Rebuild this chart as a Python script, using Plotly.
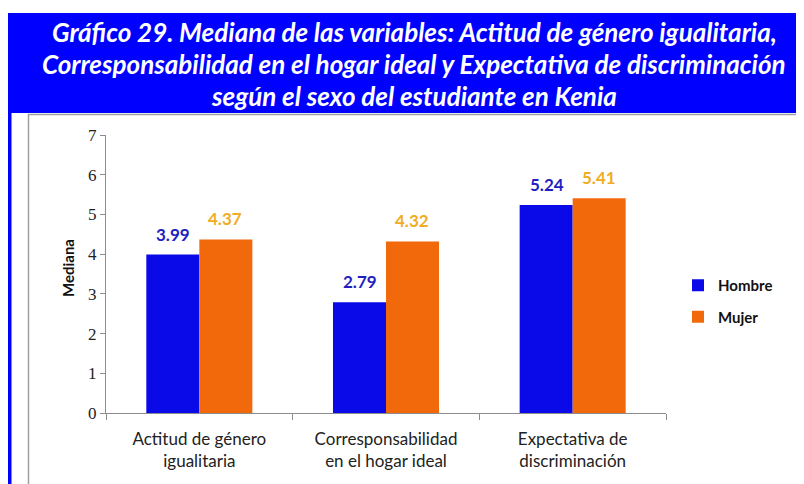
import plotly.graph_objects as go

categories = ["Actitud de género<br>igualitaria",
              "Corresponsabilidad<br>en el hogar ideal",
              "Expectativa de<br>discriminación"]
hombre = [3.99, 2.79, 5.24]
mujer = [4.37, 4.32, 5.41]
y_ticks = [0, 1, 2, 3, 4, 5, 6, 7]
title_lines = ["Gráfico 29. Mediana de las variables: Actitud de género igualitaria,",
               "Corresponsabilidad en el hogar ideal y Expectativa de discriminación",
               "según el sexo del estudiante en Kenia"]

# page body has an 8px margin; work in screen coordinates and convert
OFF = 8
W, H = 804 - OFF, 484 - OFF
L, R, T, B = 106 - OFF, 138, 135 - OFF, 71
PW, PH = W - L - R, H - T - B

def px(x):
    return (x - OFF - L) / PW

def py(y):
    return (H - B - (y - OFF)) / PH

fig = go.Figure()
fig.add_trace(go.Bar(x=categories, y=hombre, name="<b>Hombre</b>", legendgroup="h",
                     marker=dict(color="#0A0AE8", line=dict(width=0))))
fig.add_trace(go.Bar(x=categories, y=mujer, name="<b>Mujer</b>", legendgroup="m",
                     marker=dict(color="#F2690C", line=dict(width=0))))

annotations = []
for cat, v in zip(categories, hombre):
    annotations.append(dict(x=cat, y=v, xref="x", yref="y", text=f"<b>{v:.2f}</b>",
                            showarrow=False, xshift=-26, yanchor="bottom", yshift=8,
                            font=dict(family="Lato", size=17, color="#1F1FBF")))
for cat, v in zip(categories, mujer):
    annotations.append(dict(x=cat, y=v, xref="x", yref="y", text=f"<b>{v:.2f}</b>",
                            showarrow=False, xshift=26, yanchor="bottom", yshift=8,
                            font=dict(family="Lato", size=17, color="#F0AC24")))

for line, yc in zip(title_lines, [32, 64, 96]):
    annotations.append(dict(x=px(414), y=py(yc), xref="paper", yref="paper",
                            text=f"<b><i>{line}</i></b>", showarrow=False,
                            xanchor="center", yanchor="middle",
                            font=dict(family="Lato", size=26, color="white")))

annotations.append(dict(x=px(68), y=py(268), xref="paper", yref="paper",
                        text="<b>Mediana</b>", textangle=-90, showarrow=False,
                        xanchor="center", yanchor="middle",
                        font=dict(family="Lato", size=15, color="#111")))

shapes = [
    dict(type="rect", xref="paper", yref="paper", x0=px(8), x1=px(806), y0=py(13), y1=py(113),
         fillcolor="#0000FF", line=dict(width=0), layer="below"),
    dict(type="rect", xref="paper", yref="paper", x0=px(8), x1=px(11.5), y0=py(113), y1=py(490),
         fillcolor="#0000FF", line=dict(width=0), layer="below"),
    dict(type="rect", xref="paper", yref="paper", x0=px(28.5), x1=px(800), y0=py(114.5), y1=py(495),
         fillcolor="rgba(0,0,0,0)", line=dict(color="#A0A0A0", width=1.5), layer="below"),
]

fig.update_layout(
    width=W, height=H,
    margin=dict(l=L, r=R, t=T, b=B, autoexpand=False),
    paper_bgcolor="white", plot_bgcolor="white",
    barmode="group", bargap=0.432, bargroupgap=0,
    showlegend=True,
    legend=dict(x=px(678), y=py(269), xanchor="left", yanchor="top",
                font=dict(family="Lato", size=15, color="#111"),
                tracegroupgap=9, itemwidth=30, bgcolor="rgba(0,0,0,0)"),
    annotations=annotations,
    shapes=shapes,
    xaxis=dict(showline=True, linecolor="#8C8C8C", linewidth=1.2,
               ticks="outside", tickson="boundaries", ticklen=6, tickcolor="#8C8C8C",
               tickfont=dict(family="Lato", size=17, color="#222"),
               ticklabelstandoff=10,
               showgrid=False, zeroline=False, fixedrange=True),
    yaxis=dict(range=[0, 7], tickvals=y_ticks, showline=True, linecolor="#8C8C8C",
               linewidth=1.2, ticks="outside", ticklen=5, tickcolor="#8C8C8C",
               tickfont=dict(family="Liberation Serif", size=17, color="#222"),
               showgrid=False, zeroline=False, fixedrange=True),
)

fig.write_html("out.html")
